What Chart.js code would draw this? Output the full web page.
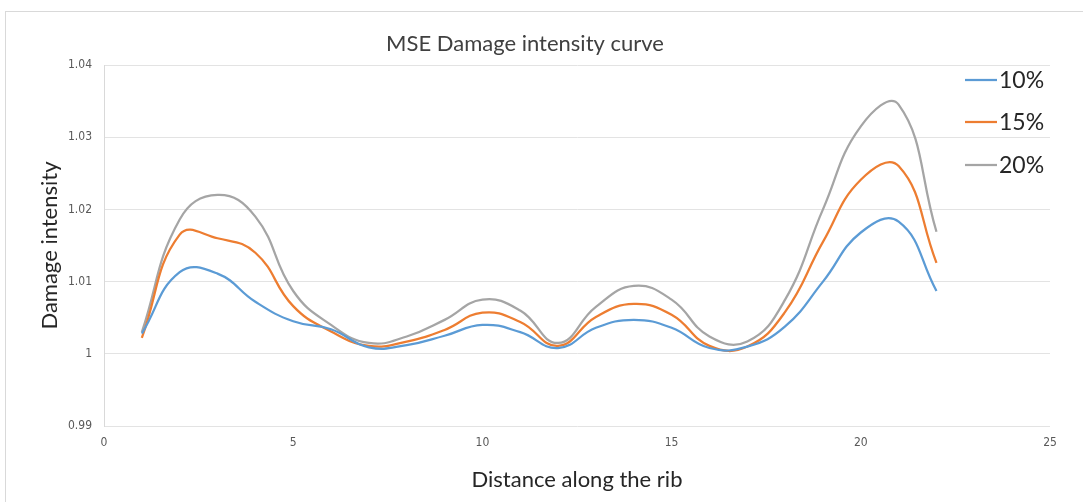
<!DOCTYPE html>
<html>
<head>
<meta charset="utf-8">
<script src="https://cdn.jsdelivr.net/npm/chart.js@4.4.1/dist/chart.umd.min.js"></script>
<style>
  html, body { margin: 0; padding: 0; background: #fff; }
  #wrap { width: 1083px; height: 502px; position: relative; }
</style>
</head>
<body>
<div id="wrap"><canvas id="damage"></canvas></div>
<script>
// distance along the rib (x) and damage intensity per damage level
const distance = [1, 2, 3, 4, 5, 6, 7, 8, 9, 10, 11, 12, 13, 14, 15, 16, 17, 18, 19, 20, 21, 22];
const dmg10 = [1.0028, 1.0113, 1.0111, 1.0072, 1.0045, 1.0034, 1.0009, 1.0012, 1.0025, 1.0040, 1.0030,
  1.0008, 1.0036, 1.0047, 1.0036, 1.0008, 1.0010, 1.0038, 1.0100, 1.0168, 1.0183, 1.0087];
const dmg15 = [1.0022, 1.0165, 1.0160, 1.0140, 1.0066, 1.0031, 1.0011, 1.0017, 1.0033, 1.0057, 1.0044,
  1.0011, 1.0051, 1.0069, 1.0054, 1.0011, 1.0010, 1.0058, 1.0155, 1.0241, 1.0260, 1.0126];
const dmg20 = [1.0030, 1.0186, 1.0220, 1.0190, 1.0087, 1.0040, 1.0015, 1.0024, 1.0047, 1.0075, 1.0060,
  1.0015, 1.0065, 1.0094, 1.0075, 1.0024, 1.0017, 1.0075, 1.0200, 1.0315, 1.0345, 1.0169];
const seriesLabels = ['10%', '15%', '20%'];
const xTicks = [0, 5, 10, 15, 20, 25];
const yTicks = [0.99, 1, 1.01, 1.02, 1.03, 1.04];

const colors = ['#5B9BD5', '#ED7D31', '#A5A5A5'];
const mainFont = "Lato, 'Open Sans', sans-serif";
const tickFont = "'Liberation Sans Narrow', 'DejaVu Sans Condensed', sans-serif";

function pts(vals) {
  return distance.map((d, i) => ({ x: d, y: vals[i] }));
}

// outer frame like the excel chart border
const framePlugin = {
  id: 'frame',
  beforeDraw(chart) {
    const ctx = chart.ctx;
    ctx.save();
    ctx.strokeStyle = '#d9d9d9';
    ctx.lineWidth = 1;
    ctx.strokeRect(5.5, 11.5, 1200, 600);
    ctx.restore();
  }
};

// legend sits inside the plot on the right, as in the original
const insideLegend = {
  id: 'insideLegend',
  afterDatasetsDraw(chart) {
    const ctx = chart.ctx;
    const x0 = 965, rowY = [80, 122, 165];
    ctx.save();
    ctx.font = '23px ' + mainFont;
    ctx.textBaseline = 'middle';
    chart.data.datasets.forEach((ds, i) => {
      ctx.strokeStyle = ds.borderColor;
      ctx.lineWidth = 2.25;
      ctx.beginPath();
      ctx.moveTo(x0, rowY[i]);
      ctx.lineTo(x0 + 32, rowY[i]);
      ctx.stroke();
      ctx.fillStyle = '#262626';
      ctx.fillText(ds.label, x0 + 34, rowY[i] + 1);
    });
    ctx.restore();
  }
};

new Chart(document.getElementById('damage'), {
  type: 'line',
  data: {
    datasets: [dmg10, dmg15, dmg20].map((vals, i) => ({
      label: seriesLabels[i],
      data: pts(vals),
      borderColor: colors[i],
      backgroundColor: colors[i],
      borderWidth: 2.25,
      pointRadius: 0,
      tension: 0.45,
      fill: false
    }))
  },
  options: {
    responsive: true,
    maintainAspectRatio: false,
    animation: false,
    layout: { padding: { top: 20, right: 33, left: 0, bottom: 0 } },
    plugins: {
      legend: { display: false },
      tooltip: { enabled: false },
      title: {
        display: true,
        text: 'MSE Damage intensity curve',
        color: '#404040',
        font: { family: mainFont, size: 22, weight: 'normal' },
        padding: { top: 11, bottom: 7.6 }
      }
    },
    scales: {
      x: {
        type: 'linear',
        min: 0, max: 25,
        afterBuildTicks(s) { s.ticks = xTicks.map(v => ({ value: v })); },
        grid: { display: false, drawTicks: false },
        border: { display: false },
        ticks: { color: '#595959', font: { family: tickFont, size: 12 }, padding: 10, maxRotation: 0 },
        title: {
          display: true,
          text: 'Distance along the rib',
          color: '#262626',
          font: { family: mainFont, size: 22 },
          padding: { top: 0, bottom: 9 }
        },
        afterFit(s) { s.height = 76; }
      },
      y: {
        min: 0.99, max: 1.04,
        afterBuildTicks(s) { s.ticks = yTicks.map(v => ({ value: v })); },
        grid: { color: '#e3e3e3', lineWidth: 1, drawTicks: false },
        border: { display: true, color: '#d9d9d9' },
        ticks: {
          color: '#595959',
          font: { family: tickFont, size: 12 },
          padding: 12,
          callback: v => String(Math.round(v * 100) / 100)
        },
        title: {
          display: true,
          text: 'Damage intensity',
          color: '#262626',
          font: { family: mainFont, size: 22 },
          padding: { top: 37, bottom: 0 }
        },
        afterFit(s) { s.width = 104; }
      }
    }
  },
  plugins: [framePlugin, insideLegend]
});
</script>
</body>
</html>
